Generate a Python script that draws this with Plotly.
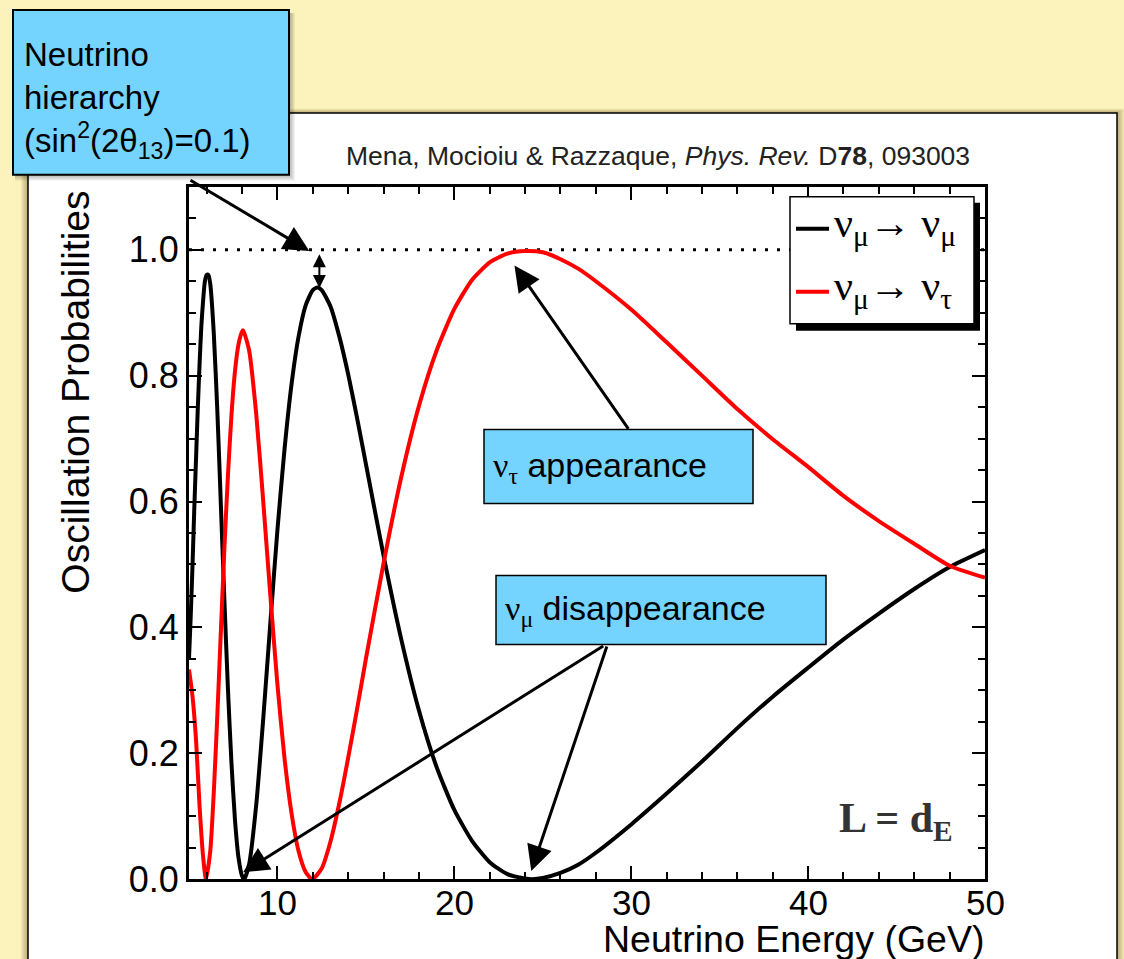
import plotly.graph_objects as go

W, H = 1124, 959
SY = 0.979  # measured vertical factor of the photographing step

# ---------------- data ----------------
energy_numu = [5.0, 5.1, 5.2, 5.3, 5.4, 5.5, 5.6, 5.7, 5.8, 5.9, 6.0, 6.1, 6.2, 6.4, 6.6, 6.8,
               7.0, 7.2, 7.4, 7.6, 7.8, 8.0, 8.12, 8.4, 8.8, 9.2, 9.6, 10.0, 10.4, 10.8, 11.2,
               11.6, 12.0, 12.26, 12.5, 13.0, 13.5, 14.0, 14.5, 15.0, 16.0, 17.0, 18.0, 19.0,
               20.0, 21.0, 22.0, 23.0, 24.0, 24.4, 25.0, 26.0, 27.0, 28.0, 30.0, 32.0, 34.0,
               36.0, 38.0, 40.0, 42.0, 44.0, 46.0, 48.0, 50.0]
prob_numu = [0.35, 0.42, 0.50, 0.59, 0.67, 0.75, 0.82, 0.88, 0.92, 0.95, 0.96, 0.96, 0.946, 0.868,
             0.745, 0.596, 0.444, 0.303, 0.185, 0.094, 0.034, 0.005, 0.0, 0.024, 0.118, 0.256,
             0.408, 0.555, 0.683, 0.787, 0.863, 0.912, 0.936, 0.94, 0.936, 0.91, 0.862, 0.802,
             0.733, 0.66, 0.514, 0.381, 0.268, 0.178, 0.11, 0.061, 0.027, 0.008, 0.001, 0.0,
             0.002, 0.01, 0.023, 0.042, 0.087, 0.136, 0.187, 0.24, 0.29, 0.336, 0.381, 0.422,
             0.461, 0.496, 0.523]

energy_nutau = [5.0, 5.2, 5.4, 5.6, 5.8, 5.96, 6.2, 6.4, 6.6, 6.8, 7.0, 7.2, 7.4, 7.6, 7.8, 8.0,
                8.06, 8.4, 8.8, 9.2, 9.6, 10.0, 10.4, 10.8, 11.2, 11.6, 11.97, 12.5, 13.0, 13.5,
                14.0, 14.5, 15.0, 16.0, 17.0, 18.0, 19.0, 20.0, 21.0, 22.0, 23.0, 24.0, 25.0,
                26.0, 27.0, 28.0, 30.0, 32.0, 34.0, 36.0, 38.0, 40.0, 42.0, 44.0, 46.0, 48.0,
                50.0]
prob_nutau = [0.333, 0.29, 0.22, 0.115, 0.035, 0.0, 0.044, 0.137, 0.259, 0.393, 0.525, 0.641,
              0.737, 0.807, 0.85, 0.87, 0.872, 0.84, 0.739, 0.599, 0.45, 0.309, 0.192, 0.104,
              0.044, 0.011, 0.0, 0.017, 0.06, 0.121, 0.193, 0.27, 0.35, 0.502, 0.639, 0.752,
              0.84, 0.906, 0.952, 0.98, 0.994, 0.998, 0.996, 0.985, 0.97, 0.95, 0.905, 0.853,
              0.8, 0.747, 0.699, 0.655, 0.609, 0.569, 0.533, 0.498, 0.479]

unit_level = [1.0, 1.0]
unit_level_energy = [5.0, 50.0]

x_ticks = [10, 20, 30, 40, 50]
x_tick_labels = ["10", "20", "30", "40", "50"]
y_ticks = [0.0, 0.2, 0.4, 0.6, 0.8, 1.0]

# ---------------- styling ----------------
CREAM = "#FBF2BC"
BLUE = "#75D4FD"
SANS = "Liberation Sans, Arial, Helvetica, sans-serif"
SERIF = "Liberation Serif, Times New Roman, serif"


def px(x):
    return x / W


def py(y):
    return 1 - y / (SY * H)


fig = go.Figure()

fig.add_trace(go.Scatter(x=unit_level_energy, y=unit_level, mode="lines",
                         line=dict(color="black", width=3, dash="3px,9px"),
                         showlegend=False, hoverinfo="skip"))
fig.add_trace(go.Scatter(x=energy_numu, y=prob_numu, mode="lines", name="numu->numu",
                         line=dict(color="black", width=4, shape="spline", smoothing=0.6),
                         showlegend=False))
fig.add_trace(go.Scatter(x=energy_nutau, y=prob_nutau, mode="lines", name="numu->nutau",
                         line=dict(color="#FF0000", width=4, shape="spline", smoothing=0.6),
                         showlegend=False))

shapes = []
# panel shadow
for i in range(1, 8):
    shapes.append(dict(type="rect", xref="paper", yref="paper", layer="below",
                       x0=px(28 - i), x1=px(1117 + i), y0=py(1010), y1=py(113 - i * 0.6),
                       line=dict(width=0), fillcolor="rgba(110,90,30,0.07)"))
# white panel
shapes.append(dict(type="rect", xref="paper", yref="paper", layer="below",
                   x0=px(28), x1=px(1117), y0=py(1010), y1=py(113),
                   line=dict(color="black", width=1.5), fillcolor="white"))

# top-left box shadow + box
for i in range(1, 7):
    shapes.append(dict(type="rect", xref="paper", yref="paper", layer="above",
                       x0=px(13 + 2), x1=px(289 + i), y0=py(175 + i), y1=py(10 + 3),
                       line=dict(width=0), fillcolor="rgba(0,0,0,0.05)"))
shapes.append(dict(type="rect", xref="paper", yref="paper", layer="above",
                   x0=px(13), x1=px(289), y0=py(175), y1=py(10),
                   line=dict(color="black", width=2), fillcolor=BLUE))
# appearance / disappearance boxes
shapes.append(dict(type="rect", xref="paper", yref="paper", layer="above",
                   x0=px(484), x1=px(753), y0=py(504), y1=py(430),
                   line=dict(color="black", width=1.5), fillcolor=BLUE))
shapes.append(dict(type="rect", xref="paper", yref="paper", layer="above",
                   x0=px(496), x1=px(826), y0=py(645), y1=py(576),
                   line=dict(color="black", width=1.5), fillcolor=BLUE))
# legend box with shadow
shapes.append(dict(type="rect", xref="paper", yref="paper", layer="above",
                   x0=px(796), x1=px(980), y0=py(331), y1=py(203),
                   line=dict(width=0), fillcolor="black"))
shapes.append(dict(type="rect", xref="paper", yref="paper", layer="above",
                   x0=px(790), x1=px(974), y0=py(324), y1=py(197),
                   line=dict(color="black", width=1.5), fillcolor="white"))
shapes.append(dict(type="line", xref="paper", yref="paper", layer="above",
                   x0=px(796), x1=px(829), y0=py(229), y1=py(229),
                   line=dict(color="black", width=4)))
shapes.append(dict(type="line", xref="paper", yref="paper", layer="above",
                   x0=px(796), x1=px(829), y0=py(292), y1=py(292),
                   line=dict(color="#FF0000", width=4)))

annotations = []


def text(x, y, t, size, family=SANS, xanchor="center", yanchor="middle", color="black",
         align="center", angle=0):
    annotations.append(dict(xref="paper", yref="paper", x=px(x), y=py(y), text=t,
                            showarrow=False, xanchor=xanchor, yanchor=yanchor, align=align,
                            textangle=angle, font=dict(size=size, family=family, color=color)))


text(658, 156, "Mena, Mocioiu &amp; Razzaque, <i>Phys. Rev.</i> D<b>78</b>, 093003", 26.5,
     color="#222")
text(76, 393, "Oscillation Probabilities", 39, angle=-90)
text(986, 940, "Neutrino Energy (GeV)", 37.5, xanchor="right")
text(22, 100, "Neutrino<br>hierarchy<br>(sin<sup>2</sup>(2θ<sub>13</sub>)=0.1)", 33,
     xanchor="left", align="left")
text(491, 468, "<span style='font-family:Liberation Serif'>ν<sub>τ</sub></span> appearance", 34,
     xanchor="left")
text(503, 611, "<span style='font-family:Liberation Serif'>ν<sub>μ</sub></span> disappearance", 34,
     xanchor="left")
ARROW = "<span style='font-family:Liberation Sans'>→</span>"
text(832, 226, "ν<sub>μ</sub>" + ARROW + " ν<sub>μ</sub>", 42, family=SERIF, xanchor="left")
text(832, 289, "ν<sub>μ</sub>" + ARROW + " ν<sub>τ</sub>", 42, family=SERIF, xanchor="left")
text(896, 822, "<b>L = d<sub>E</sub></b>", 42, family=SERIF, color="#333")

# x tick labels
for v, lab in zip(x_ticks, x_tick_labels):
    annotations.append(dict(xref="x", yref="paper", x=v, y=py(903), text=lab, showarrow=False,
                            xanchor="center", yanchor="middle",
                            font=dict(size=35, family=SANS, color="black")))


def arrow(tip, tail, width=3, size=1.7, side="end"):
    annotations.append(dict(xref="x", yref="y", axref="x", ayref="y",
                            x=tip[0], y=tip[1], ax=tail[0], ay=tail[1], text="",
                            showarrow=True, arrowhead=2, arrowsize=size, arrowwidth=width,
                            arrowcolor="black", arrowside=side, standoff=0, startstandoff=0))


arrow((11.8, 0.998), (5.0, 1.112))
arrow((12.37, 0.993), (12.37, 0.937), width=2, size=1.3, side="end+start")
arrow((23.4, 0.975), (29.9, 0.713))
arrow((8.06, 0.011), (28.5, 0.372))
arrow((24.35, 0.013), (28.65, 0.372))

axis_common = dict(showline=True, linewidth=3, linecolor="black", mirror="allticks",
                   ticks="inside", ticklen=13, tickwidth=2, tickcolor="black",
                   showgrid=False, zeroline=False,
                   tickfont=dict(size=36, family=SANS, color="black"))

fig.update_layout(
    width=W, height=H, autosize=False,
    margin=dict(l=0, r=0, t=0, b=0),
    paper_bgcolor=CREAM, plot_bgcolor="white",
    showlegend=False,
    shapes=shapes, annotations=annotations,
    xaxis=dict(range=[5, 50], domain=[px(189), px(985)], tickmode="array", tickvals=x_ticks,
               showticklabels=False,
               minor=dict(dtick=2, tick0=0, ticks="inside", ticklen=7, tickwidth=2,
                          tickcolor="black"),
               **axis_common),
    yaxis=dict(range=[0, 1.1], domain=[py(880), py(187)], tickmode="array", tickvals=y_ticks,
               tickformat=".1f",
               minor=dict(dtick=0.05, tick0=0, ticks="inside", ticklen=7, tickwidth=2,
                          tickcolor="black"),
               **axis_common),
)

fig.write_html(
    "out.html",
    post_script=(
        "document.documentElement.style.background='" + CREAM + "';"
        "document.body.style.background='" + CREAM + "';"
        "document.body.style.margin='0';"
    ),
)
